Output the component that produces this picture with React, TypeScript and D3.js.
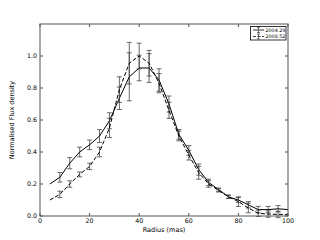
import * as d3 from 'd3';

const radius = [4, 8, 12, 16, 20, 24, 28, 32, 36, 40, 44, 48, 52, 56, 60, 64, 68, 72, 76, 80, 84, 88, 92, 96, 100];
const flux2004 = [0.2, 0.242, 0.33, 0.40, 0.445, 0.50, 0.595, 0.736, 0.87, 0.925, 0.925, 0.85, 0.70, 0.51, 0.41, 0.29, 0.21, 0.165, 0.12, 0.10, 0.07, 0.04, 0.04, 0.045, 0.04];
const err2004 = [0, 0.03, 0.035, 0.03, 0.03, 0.04, 0.05, 0.07, 0.15, 0.08, 0.09, 0.07, 0.05, 0.03, 0.03, 0.035, 0.02, 0.01, 0.01, 0.015, 0.02, 0.02, 0.02, 0.02, 0];
const flux2008 = [0.10, 0.135, 0.20, 0.26, 0.31, 0.40, 0.55, 0.79, 0.955, 1.0, 0.955, 0.83, 0.66, 0.50, 0.38, 0.27, 0.20, 0.16, 0.12, 0.09, 0.05, 0.017, 0.012, 0.01, 0.01];
const err2008 = [0, 0.02, 0.02, 0.015, 0.02, 0.03, 0.06, 0.08, 0.13, 0.08, 0.08, 0.06, 0.05, 0.03, 0.03, 0.04, 0.02, 0.01, 0.01, 0.03, 0.03, 0.02, 0.02, 0.02, 0];
const xTicks = [0, 20, 40, 60, 80, 100];
const yTicks = [0, 0.2, 0.4, 0.6, 0.8, 1.0];
const seriesNames = ['2004.29', '2008.52'];

export default function App() {
  const width = 320;
  const height = 240;
  const m = { top: 24, right: 32, bottom: 24, left: 40 };

  const x = d3.scaleLinear().domain([0, 100]).range([m.left, width - m.right]);
  const y = d3.scaleLinear().domain([0, 1.2]).range([height - m.bottom, m.top]);

  const line = d3.line<number>()
    .x((_, i) => x(radius[i]))
    .y(d => y(d));

  const series = [
    { vals: flux2004, errs: err2004, dash: undefined as string | undefined },
    { vals: flux2008, errs: err2008, dash: '4,2' },
  ];
  const font = 'DejaVu Sans, sans-serif';
  const cap = 2.5;

  return (
    <svg width={width} height={height} style={{ position: 'absolute', left: 0, top: 0, background: '#fff' }}>
      {series.map((s, si) => (
        <g key={si}>
          {s.vals.map((v, i) =>
            s.errs[i] > 0 ? (
              <g key={i} stroke="#444" strokeWidth={0.8}>
                <line x1={x(radius[i])} x2={x(radius[i])} y1={y(v - s.errs[i])} y2={y(v + s.errs[i])} />
                <line x1={x(radius[i]) - cap} x2={x(radius[i]) + cap} y1={y(v - s.errs[i])} y2={y(v - s.errs[i])} />
                <line x1={x(radius[i]) - cap} x2={x(radius[i]) + cap} y1={y(v + s.errs[i])} y2={y(v + s.errs[i])} />
              </g>
            ) : null
          )}
          <path d={line(s.vals) ?? ''} fill="none" stroke="#000" strokeWidth={1} strokeDasharray={s.dash} />
        </g>
      ))}

      {/* frame and ticks */}
      <rect x={m.left} y={m.top} width={width - m.left - m.right} height={height - m.top - m.bottom} fill="none" stroke="#555" strokeWidth={1} />
      <g fill="#000" fontFamily={font}>
        {xTicks.map(t => (
          <g key={'x' + t}>
            <line x1={x(t)} x2={x(t)} y1={y(0)} y2={y(0) - 3} stroke="#555" />
            <line x1={x(t)} x2={x(t)} y1={m.top} y2={m.top + 3} stroke="#555" />
            <text x={x(t)} y={223} fontSize={6.3} textAnchor="middle">{t}</text>
          </g>
        ))}
        {yTicks.map(t => (
          <g key={'y' + t}>
            <line x1={m.left} x2={m.left + 3} y1={y(t)} y2={y(t)} stroke="#555" />
            <line x1={width - m.right} x2={width - m.right - 3} y1={y(t)} y2={y(t)} stroke="#555" />
            <text x={37} y={y(t) + 2.2} fontSize={6.3} textAnchor="end">{t.toFixed(1)}</text>
          </g>
        ))}

        <text x={(m.left + width - m.right) / 2} y={231.5} fontSize={6.5} textAnchor="middle">Radius (mas)</text>
        <text transform={`translate(14,${(m.top + height - m.bottom) / 2}) rotate(-90)`} fontSize={6.5} textAnchor="middle">Normalised Flux density</text>
      </g>

      {/* legend */}
      <rect x={250.5} y={26.5} width={35.5} height={13.5} fill="#fff" stroke="#000" strokeWidth={0.8} />
      {seriesNames.map((n, i) => {
        const ly = 30 + i * 6.5;
        return (
          <g key={n}>
            <line x1={253} x2={264} y1={ly} y2={ly} stroke="#000" strokeWidth={0.8} strokeDasharray={i === 1 ? '3,1.5' : undefined} />
            <g stroke="#444" strokeWidth={0.7}>
              <line x1={258.5} x2={258.5} y1={ly - 2.5} y2={ly + 2.5} />
              <line x1={257} x2={260} y1={ly - 2.5} y2={ly - 2.5} />
              <line x1={257} x2={260} y1={ly + 2.5} y2={ly + 2.5} />
            </g>
            <text x={265.5} y={ly + 1.7} fontSize={4.8} fontFamily={font} fill="#000">{n}</text>
          </g>
        );
      })}
    </svg>
  );
}
